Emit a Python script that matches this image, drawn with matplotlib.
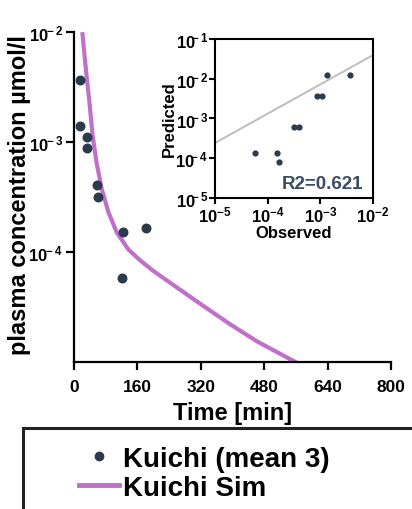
import numpy as np
import matplotlib.pyplot as plt
from matplotlib.lines import Line2D
from matplotlib.patches import Rectangle

plt.rcParams['font.family'] = ['Liberation Sans', 'DejaVu Sans']
plt.rcParams['font.weight'] = 'bold'
plt.rcParams['mathtext.fontset'] = 'custom'
plt.rcParams['mathtext.rm'] = 'Liberation Sans:bold'
plt.rcParams['mathtext.bf'] = 'Liberation Sans:bold'
plt.rcParams['mathtext.default'] = 'bf'

# observed data (Kuichi, mean of 3)
obs_time = [15, 15, 33, 33, 58, 60, 122, 124, 182]
obs_conc = [3.7e-3, 1.4e-3, 1.11e-3, 8.8e-4, 4.1e-4, 3.2e-4, 5.8e-5, 1.53e-4, 1.64e-4]

# simulated curve (Kuichi Sim)
sim_time = [21, 30, 39, 47, 57, 70, 87, 108, 137, 167, 200, 259, 326, 394, 461, 528, 570]
sim_conc = [1.0e-2, 4.6e-3, 2.3e-3, 1.14e-3, 6.5e-4, 3.75e-4, 2.3e-4, 1.51e-4, 1.06e-4,
            8.41e-5, 6.76e-5, 4.79e-5, 3.25e-5, 2.21e-5, 1.55e-5, 1.15e-5, 9.55e-6]

# predicted vs observed (inset)
po_obs = [5.8e-5, 1.51e-4, 1.64e-4, 3.1e-4, 4.0e-4, 8.5e-4, 1.08e-3, 1.35e-3, 3.7e-3]
po_pred = [1.38e-4, 1.38e-4, 8.1e-5, 6.2e-4, 6.2e-4, 3.7e-3, 3.7e-3, 1.26e-2, 1.26e-2]
fit_intercept = -3.616  # log10(pred) at obs = 1e-5
fit_slope = 0.737
r2_text = 'R2=0.621'

x_ticks = [0, 160, 320, 480, 640, 800]
main_exps = [-4, -3, -2]
ins_x_exps = [-5, -4, -3, -2]
ins_y_exps = [-5, -4, -3, -2, -1]

dot_color = '#2b3a4d'
sim_color = '#c070c8'


def pow_label(e, kern=0):
    # "10" with the exponent pulled back toward the zero, like the original
    return r'$10^{' + r'\!' * kern + str(e) + '}$'


fig = plt.figure(figsize=(4.12, 5.10), dpi=100)

ax = fig.add_axes([0.1796, 0.288, 0.7694, 0.647])
ax.plot(sim_time, sim_conc, color=sim_color, lw=3, solid_joinstyle='round',
        solid_capstyle='butt')
ax.scatter(obs_time, obs_conc, s=38, color=dot_color, zorder=3, clip_on=False)
ax.set_yscale('log')
ax.set_ylim(1e-5, 1e-2)
ax.set_xlim(0, 800)
ax.set_xticks(x_ticks)
ax.set_xticklabels([str(t) for t in x_ticks])
ax.set_yticks([10.0 ** e for e in main_exps])
ax.set_yticklabels([pow_label(e, 2) for e in main_exps])
ax.yaxis.set_minor_locator(plt.NullLocator())
for s in ['top', 'right']:
    ax.spines[s].set_visible(False)
for s in ['left', 'bottom']:
    ax.spines[s].set_linewidth(1.6)
ax.tick_params(axis='both', width=1.6, length=6, labelsize=12.5, pad=6)
ax.tick_params(axis='y', labelsize=12, pad=2)
ax.set_xlabel('Time [min]', fontsize=17, fontweight='bold', labelpad=5)
ax.set_ylabel('plasma concentration µmol/l', fontsize=17, fontweight='bold')
ax.yaxis.set_label_coords(-0.135, 0.51)

# inset
ins = fig.add_axes([0.5218, 0.6098, 0.3835, 0.3118])
ins.set_xscale('log')
ins.set_yscale('log')
ins.set_xlim(1e-5, 1e-2)
ins.set_ylim(1e-5, 1e-1)
fx = np.array([1e-5, 1e-2])
fy = 10 ** (fit_intercept + fit_slope * (np.log10(fx) + 5))
ins.plot(fx, fy, color='#c0c0c0', lw=1.5)
ins.scatter(po_obs, po_pred, s=12, color=dot_color, zorder=3)
ins.set_xticks([10.0 ** e for e in ins_x_exps])
ins.set_xticklabels([pow_label(e) for e in ins_x_exps])
ins.set_yticks([10.0 ** e for e in ins_y_exps])
ins.set_yticklabels([pow_label(e, 3) for e in ins_y_exps])
ins.xaxis.set_minor_locator(plt.NullLocator())
ins.yaxis.set_minor_locator(plt.NullLocator())
for s in ins.spines.values():
    s.set_linewidth(1.5)
ins.tick_params(axis='both', width=1.5, length=4, labelsize=12, pad=1)
ins.set_xlabel('Observed', fontsize=12, fontweight='bold', labelpad=0)
ins.set_ylabel('Predicted', fontsize=12, fontweight='bold')
ins.yaxis.set_label_coords(-0.24, 0.5)
ins.text(0.94, 0.04, r2_text, transform=ins.transAxes, ha='right', va='bottom',
         fontsize=13.5, fontweight='bold', color='#3b4d63')

# legend box
fig.patches.append(Rectangle((23 / 412, -0.1), 1.0, 1 - 429 / 510 + 0.1,
                             transform=fig.transFigure, fill=False,
                             edgecolor='#222222', lw=2.2, clip_on=False))
handles = [Line2D([], [], marker='o', ls='none', color=dot_color, markersize=6),
           Line2D([], [], color=sim_color, lw=3.5)]
fig.legend(handles, ['Kuichi (mean 3)', 'Kuichi Sim'], loc='upper left',
           bbox_to_anchor=(79 / 412, 1 - 447 / 510), frameon=False,
           prop={'size': 20, 'weight': 'bold'}, handlelength=1.44,
           handletextpad=0.14, labelspacing=0.1, borderpad=0, borderaxespad=0)

fig.savefig('out.png', dpi=100)
